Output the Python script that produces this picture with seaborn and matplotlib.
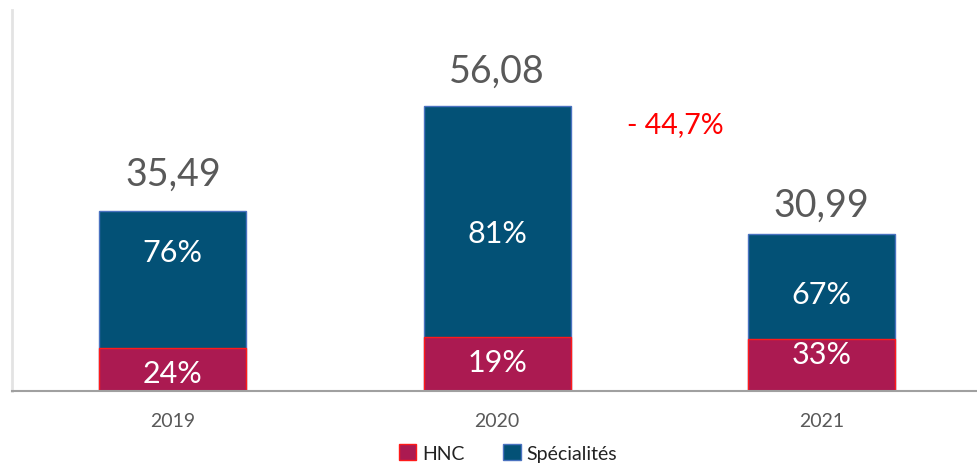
import pandas as pd
import matplotlib
matplotlib.use("Agg")
import matplotlib.pyplot as plt
import seaborn as sns
from matplotlib.patches import Patch

# donnees
years = ["2019", "2020", "2021"]
totals = [35.49, 56.08, 30.99]
hnc_pct = [24, 19, 33]
spec_pct = [76, 81, 67]
variation = "- 44,7%"

# placement des etiquettes (fraction du segment, comme dans l'original)
spec_lab_pos = [0.70, 0.45, 0.43]
hnc_lab_pos = [0.41, 0.53, 0.72]
total_gap = [3.7, 3.5, 2.2]

hnc_vals = [t * p / 100 for t, p in zip(totals, hnc_pct)]
df = pd.DataFrame({"year": years, "total": totals, "hnc": hnc_vals})

sns.set_style("white")
plt.rcParams["font.family"] = ["Lato", "DejaVu Sans"]

c_spec = "#035176"
c_hnc = "#ab1a51"

fig = plt.figure(figsize=(9.77, 4.64), dpi=100)
ax = fig.add_axes([12 / 977, 72 / 464, 1 - 12 / 977, (392 - 11) / 464])

# barre totale (Specialites) puis HNC par dessus -> effet empile
sns.barplot(data=df, x="year", y="total", color=c_spec, width=0.453,
            edgecolor="#4a72c0", linewidth=1, saturation=1, ax=ax)
sns.barplot(data=df, x="year", y="hnc", color=c_hnc, width=0.453,
            edgecolor="#ff1a1a", linewidth=1, saturation=1, ax=ax)

ax.set_ylim(0, 75)
ax.set_xlim(-0.496, 2.48)

for i, (t, h, ph, ps) in enumerate(zip(totals, hnc_vals, hnc_pct, spec_pct)):
    ax.text(i, t + total_gap[i], f"{t:.2f}".replace(".", ","), ha="center",
            va="bottom", fontsize=27, color="#595959")
    ax.text(i, h + (t - h) * spec_lab_pos[i], f"{ps}%", ha="center", va="center",
            fontsize=22, color="white")
    ax.text(i, h * hnc_lab_pos[i], f"{ph}%", ha="center", va="center",
            fontsize=22, color="white")

ax.text(1.55, 52.5, variation, ha="center", va="center", fontsize=20.5, color="#ff0000")

ax.set_xlabel("")
ax.set_ylabel("")
ax.set_yticks([])
ax.tick_params(axis="x", which="major", length=0, labelsize=14,
               labelcolor="#595959", pad=15)
ax.set_xticks([-0.496], minor=True)
ax.tick_params(axis="x", which="minor", length=7, color="#999999", width=1.2)

for s in ["top", "right"]:
    ax.spines[s].set_visible(False)
ax.spines["left"].set_color("#e3e3e3")
ax.spines["left"].set_linewidth(2)
ax.spines["bottom"].set_color("#a0a0a0")
ax.spines["bottom"].set_linewidth(1.5)

handles = [Patch(facecolor=c_hnc, edgecolor="#ff1a1a", label="HNC"),
           Patch(facecolor=c_spec, edgecolor="#4a72c0", label="Spécialités")]
fig.legend(handles=handles, loc="center", bbox_to_anchor=(0.52, 0.022), ncol=2,
           frameon=False, fontsize=14, handlelength=0.9, handleheight=0.9,
           handletextpad=0.3, columnspacing=2.0, labelcolor="#222222")

fig.savefig("out.png", dpi=100)
